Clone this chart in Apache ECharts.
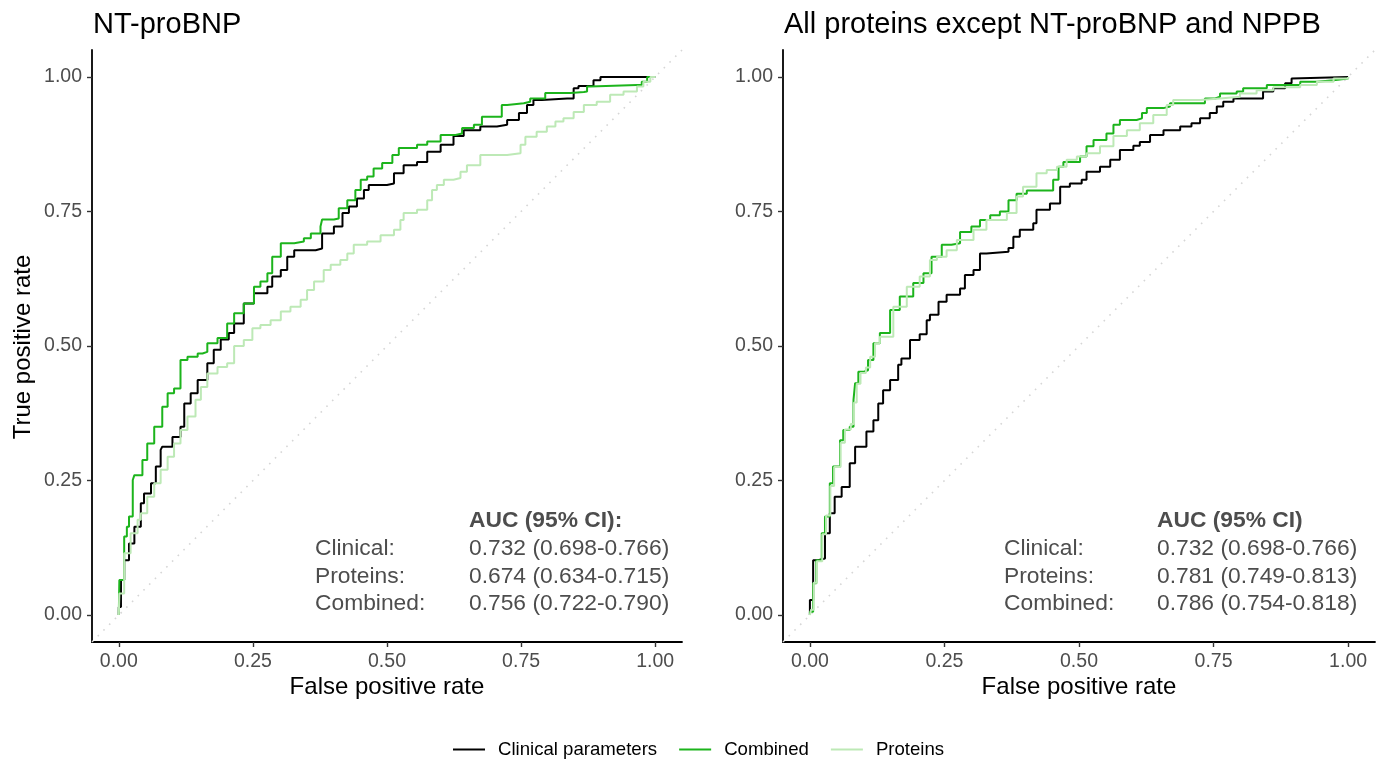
<!DOCTYPE html>
<html>
<head>
<meta charset="utf-8">
<script src="https://cdn.jsdelivr.net/npm/echarts@6/dist/echarts.min.js"></script>
<style>
html,body{margin:0;padding:0;background:#fff;}
#chart{width:1384px;height:760px;}
</style>
</head>
<body>
<div id="chart"></div>
<script>
// ---------- data ----------
const panelTitles = ['NT-proBNP', 'All proteins except NT-proBNP and NPPB'];
const seriesNames = ['Clinical parameters', 'Combined', 'Proteins'];
const tickValues = [0, 0.25, 0.5, 0.75, 1];
const aucHeaders = ['AUC (95% CI):', 'AUC (95% CI)'];
const aucLabels = ['Clinical:', 'Proteins:', 'Combined:'];
const aucLeft = ['0.732 (0.698-0.766)', '0.674 (0.634-0.715)', '0.756 (0.722-0.790)'];
const aucRight = ['0.732 (0.698-0.766)', '0.781 (0.749-0.813)', '0.786 (0.754-0.818)'];

// [false positive rate, true positive rate]
const ntClinical = [[0,0],[0,0.015],[0.004,0.065],[0.01,0.102],[0.019,0.133],[0.029,0.164],[0.041,0.208],[0.047,0.226],[0.06,0.245],[0.069,0.276],[0.078,0.307],[0.081,0.313],[0.094,0.313],[0.1,0.331],[0.115,0.35],[0.122,0.393],[0.134,0.412],[0.147,0.437],[0.165,0.468],[0.177,0.493],[0.19,0.512],[0.205,0.524],[0.215,0.542],[0.233,0.579],[0.252,0.598],[0.277,0.61],[0.286,0.629],[0.302,0.641],[0.314,0.666],[0.327,0.678],[0.367,0.681],[0.379,0.709],[0.401,0.722],[0.417,0.747],[0.429,0.759],[0.444,0.774],[0.457,0.79],[0.466,0.799],[0.5,0.802],[0.513,0.821],[0.531,0.836],[0.556,0.842],[0.575,0.861],[0.6,0.874],[0.624,0.89],[0.643,0.901],[0.674,0.908],[0.705,0.911],[0.724,0.92],[0.746,0.933],[0.761,0.948],[0.773,0.957],[0.789,0.96],[0.836,0.96],[0.848,0.979],[0.857,0.983],[0.873,0.983],[0.885,0.994],[0.898,1],[1,1]];
const ntCombined = [[0,0],[0,0.004],[0.001,0.065],[0.01,0.146],[0.015,0.164],[0.019,0.183],[0.026,0.251],[0.029,0.26],[0.038,0.26],[0.044,0.288],[0.053,0.319],[0.066,0.35],[0.081,0.387],[0.091,0.412],[0.103,0.421],[0.115,0.474],[0.128,0.48],[0.147,0.486],[0.156,0.489],[0.165,0.505],[0.184,0.515],[0.202,0.542],[0.215,0.561],[0.233,0.579],[0.252,0.61],[0.264,0.62],[0.277,0.635],[0.286,0.666],[0.302,0.691],[0.327,0.694],[0.345,0.7],[0.358,0.709],[0.376,0.722],[0.379,0.735],[0.401,0.737],[0.41,0.756],[0.426,0.771],[0.441,0.79],[0.451,0.809],[0.463,0.815],[0.475,0.83],[0.491,0.84],[0.51,0.855],[0.522,0.868],[0.556,0.874],[0.575,0.88],[0.6,0.892],[0.628,0.895],[0.64,0.905],[0.662,0.911],[0.677,0.926],[0.705,0.926],[0.714,0.948],[0.724,0.951],[0.755,0.954],[0.767,0.96],[0.786,0.96],[0.795,0.97],[0.842,0.972],[0.867,0.973],[0.873,0.982],[0.879,0.985],[0.966,0.985],[0.975,0.991],[0.985,1],[1,1]];
const ntProteins = [[0,0],[0,0.003],[0.001,0.04],[0.01,0.115],[0.022,0.152],[0.035,0.177],[0.041,0.189],[0.053,0.22],[0.066,0.245],[0.078,0.27],[0.091,0.294],[0.103,0.319],[0.115,0.344],[0.128,0.369],[0.143,0.4],[0.153,0.424],[0.165,0.449],[0.184,0.461],[0.202,0.468],[0.215,0.5],[0.233,0.511],[0.249,0.533],[0.264,0.539],[0.283,0.548],[0.302,0.564],[0.32,0.573],[0.339,0.586],[0.351,0.604],[0.364,0.62],[0.382,0.641],[0.395,0.651],[0.413,0.66],[0.426,0.672],[0.438,0.688],[0.463,0.694],[0.488,0.706],[0.513,0.716],[0.525,0.734],[0.531,0.747],[0.556,0.753],[0.575,0.771],[0.584,0.79],[0.593,0.799],[0.606,0.809],[0.624,0.812],[0.637,0.824],[0.649,0.836],[0.674,0.855],[0.724,0.858],[0.749,0.874],[0.758,0.889],[0.779,0.898],[0.798,0.908],[0.814,0.917],[0.829,0.923],[0.848,0.935],[0.867,0.948],[0.891,0.954],[0.916,0.967],[0.941,0.973],[0.966,0.982],[0.978,0.991],[0.991,1],[1,1]];

const allClinical = [[0,0],[0,0.028],[0.006,0.102],[0.015,0.105],[0.028,0.152],[0.037,0.189],[0.046,0.22],[0.059,0.238],[0.074,0.282],[0.084,0.313],[0.096,0.313],[0.105,0.341],[0.118,0.362],[0.127,0.393],[0.136,0.418],[0.149,0.437],[0.164,0.465],[0.17,0.477],[0.186,0.511],[0.204,0.522],[0.217,0.548],[0.223,0.558],[0.239,0.582],[0.254,0.595],[0.279,0.607],[0.288,0.632],[0.304,0.641],[0.316,0.672],[0.328,0.675],[0.369,0.682],[0.378,0.703],[0.39,0.716],[0.415,0.728],[0.421,0.753],[0.446,0.765],[0.465,0.796],[0.483,0.802],[0.505,0.809],[0.514,0.824],[0.539,0.833],[0.558,0.846],[0.576,0.864],[0.601,0.872],[0.613,0.879],[0.632,0.892],[0.657,0.901],[0.688,0.908],[0.709,0.914],[0.725,0.923],[0.743,0.933],[0.756,0.945],[0.768,0.954],[0.787,0.96],[0.836,0.96],[0.842,0.973],[0.861,0.979],[0.883,0.988],[0.895,0.997],[0.898,1],[1,1]];
const allCombined = [[0,0],[0,0.006],[0.006,0.059],[0.012,0.102],[0.022,0.152],[0.028,0.183],[0.037,0.245],[0.043,0.276],[0.056,0.325],[0.062,0.344],[0.074,0.35],[0.081,0.4],[0.084,0.431],[0.09,0.452],[0.099,0.455],[0.108,0.474],[0.118,0.505],[0.13,0.524],[0.149,0.567],[0.167,0.592],[0.192,0.617],[0.211,0.635],[0.226,0.666],[0.245,0.688],[0.263,0.691],[0.279,0.712],[0.3,0.722],[0.316,0.734],[0.335,0.743],[0.353,0.75],[0.369,0.771],[0.384,0.783],[0.403,0.789],[0.434,0.789],[0.452,0.809],[0.462,0.833],[0.471,0.842],[0.502,0.852],[0.514,0.871],[0.527,0.883],[0.551,0.895],[0.564,0.911],[0.576,0.92],[0.607,0.923],[0.617,0.933],[0.626,0.942],[0.657,0.945],[0.669,0.951],[0.716,0.951],[0.734,0.96],[0.753,0.963],[0.762,0.969],[0.793,0.973],[0.805,0.979],[0.824,0.979],[0.849,0.985],[0.867,0.985],[0.911,0.991],[0.942,0.994],[0.973,0.997],[1,1]];
const allProteins = [[0,0],[0.002,0.01],[0.007,0.06],[0.013,0.1],[0.023,0.15],[0.03,0.185],[0.038,0.24],[0.045,0.275],[0.057,0.32],[0.065,0.345],[0.076,0.355],[0.082,0.395],[0.087,0.43],[0.094,0.45],[0.104,0.46],[0.112,0.48],[0.121,0.505],[0.13,0.517],[0.155,0.573],[0.18,0.61],[0.204,0.629],[0.223,0.66],[0.236,0.666],[0.254,0.678],[0.273,0.697],[0.304,0.716],[0.328,0.734],[0.366,0.747],[0.384,0.778],[0.396,0.796],[0.421,0.821],[0.44,0.827],[0.459,0.833],[0.477,0.846],[0.496,0.852],[0.514,0.858],[0.539,0.871],[0.564,0.89],[0.589,0.901],[0.613,0.914],[0.638,0.929],[0.663,0.948],[0.675,0.957],[0.725,0.96],[0.762,0.963],[0.799,0.969],[0.83,0.975],[0.861,0.981],[0.911,0.985],[0.942,0.991],[0.973,0.997],[1,1]];

const diagonal = [[-0.05,-0.05],[1.05,1.05]];

// ---------- styles ----------
const FONT = '"Liberation Sans", Arial, sans-serif';
const colors = {'Clinical parameters':'#000000', 'Combined':'#1CB41C', 'Proteins':'#BDE9B6'};
const grids = [
  {left: 92, top: 50, width: 590, height: 592},
  {left: 783, top: 50, width: 592, height: 592}
];

function axisCommon(i){
  return {
    type:'value', gridIndex:i, min:-0.05, max:1.05,
    splitLine:{show:false},
    axisLine:{show:true, onZero:false, lineStyle:{color:'#000', width:1.8}},
    axisTick:{show:true, length:5, customValues:tickValues, lineStyle:{color:'#333', width:1.4}},
    axisLabel:{show:true, customValues:tickValues, margin:10, color:'#4D4D4D', fontSize:19.5, fontFamily:FONT,
      formatter:v=>v.toFixed(2)}
  };
}

function curve(name, data, i){
  return {
    type:'line', name:name, xAxisIndex:i, yAxisIndex:i, data:data,
    step:'end', showSymbol:false, symbol:'none', silent:true, animation:false,
    lineStyle:{color:colors[name], width:2},
    itemStyle:{color:colors[name]}
  };
}
function diag(i){
  return {
    type:'line', xAxisIndex:i, yAxisIndex:i, data:diagonal, showSymbol:false, symbol:'none',
    silent:true, animation:false, z:1,
    lineStyle:{color:'#D6D6D6', width:1.6, type:[1.6,6.5]}
  };
}

const series = [
  diag(0),
  curve('Clinical parameters', ntClinical, 0),
  curve('Combined', ntCombined, 0),
  curve('Proteins', ntProteins, 0),
  diag(1),
  curve('Clinical parameters', allClinical, 1),
  curve('Combined', allCombined, 1),
  curve('Proteins', allProteins, 1)
];

// ---------- text graphics ----------
const graphics = [];
const txtStyle = (extra)=>Object.assign({fontFamily:FONT, fontSize:22.8, fill:'#4D4D4D', verticalAlign:'middle'}, extra);
function annot(xLabel, xValue, header, values){
  graphics.push({type:'text', x:xValue, y:521, style:txtStyle({text:header, fontWeight:'bold'})});
  aucLabels.forEach((l,k)=>{
    graphics.push({type:'text', x:xLabel, y:549+k*27.3, style:txtStyle({text:l})});
    graphics.push({type:'text', x:xValue, y:549+k*27.3, style:txtStyle({text:values[k]})});
  });
}
annot(315, 469, aucHeaders[0], aucLeft);
annot(1004, 1157, aucHeaders[1], aucRight);
// axis titles
const titleStyle = (t)=>({text:t, fontFamily:FONT, fontSize:24, fill:'#000', align:'center', verticalAlign:'middle'});
graphics.push({type:'text', x:387, y:687, style:titleStyle('False positive rate')});
graphics.push({type:'text', x:1079, y:687, style:titleStyle('False positive rate')});
graphics.push({type:'text', x:23, y:347, rotation:Math.PI/2, style:titleStyle('True positive rate')});

const option = {
  backgroundColor:'#fff',
  animation:false,
  title:[
    {text:panelTitles[0], left:88, top:5, textStyle:{fontFamily:FONT, fontSize:29, fontWeight:'normal', color:'#000'}},
    {text:panelTitles[1], left:779, top:5, textStyle:{fontFamily:FONT, fontSize:29, fontWeight:'normal', color:'#000'}}
  ],
  legend:{
    data:seriesNames, left:453, top:740, padding:0, icon:'rect', itemWidth:32, itemHeight:2, itemGap:22,
    textStyle:{fontFamily:FONT, fontSize:18.6, color:'#000', padding:[0,0,0,8]},
    selectedMode:false
  },
  grid:grids,
  xAxis:[axisCommon(0), axisCommon(1)],
  yAxis:[axisCommon(0), axisCommon(1)],
  series:series,
  graphic:graphics
};

const chart = echarts.init(document.getElementById('chart'), null, {renderer:'canvas'});
chart.setOption(option);
</script>
</body>
</html>
